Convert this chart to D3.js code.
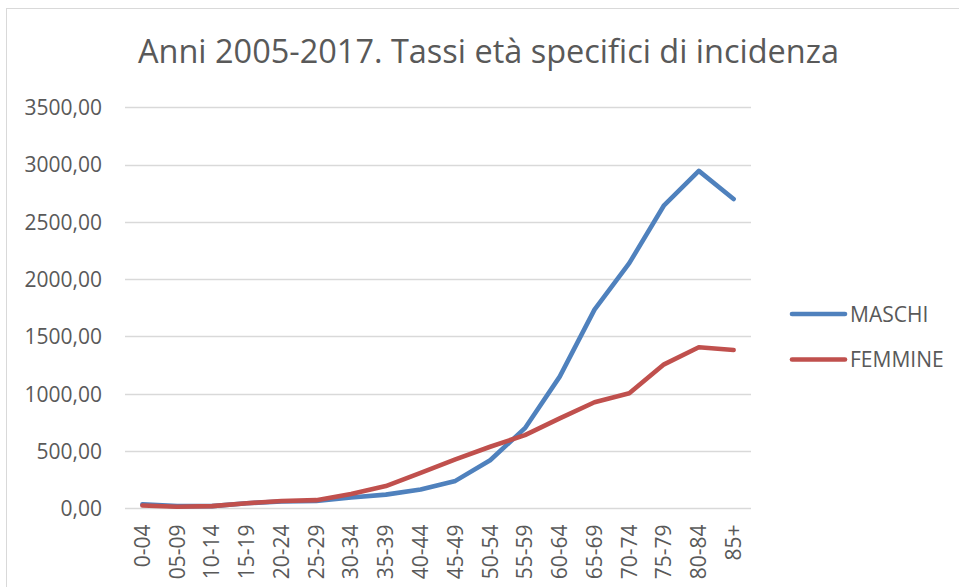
<!DOCTYPE html>
<html>
<head>
<meta charset="utf-8">
<script src="https://cdn.jsdelivr.net/npm/d3@7"></script>
<style>
  html, body { margin: 0; padding: 0; background: #fff; }
  svg { display: block; }
  text { font-family: "Open Sans", "Noto Sans", sans-serif; fill: #595959; }
</style>
</head>
<body>
<svg id="chart" width="959" height="587"></svg>
<script>
const title = "Anni 2005-2017. Tassi età specifici di incidenza";
const categories = ["0-04","05-09","10-14","15-19","20-24","25-29","30-34","35-39","40-44","45-49","50-54","55-59","60-64","65-69","70-74","75-79","80-84","85+"];
const maschi  = [35, 20, 20, 45, 60, 65, 95, 120, 165, 240, 420, 700, 1150, 1735, 2140, 2645, 2945, 2700];
const femmine = [25, 15, 20, 45, 65, 72, 125, 195, 310, 428, 538, 640, 786, 926, 1004, 1257, 1406, 1382];
const seriesNames = ["MASCHI", "FEMMINE"];
const seriesColors = ["#4f81bd", "#c0504d"];
const yTicks = [0, 500, 1000, 1500, 2000, 2500, 3000, 3500];

const svg = d3.select("#chart");
const W = 959, H = 587;
const plot = { left: 125, right: 751, top: 107.3, bottom: 508.4 };

// frame
svg.append("rect").attr("x", 6.5).attr("y", 8.5).attr("width", W + 20).attr("height", H + 20)
  .attr("fill", "#fff").attr("stroke", "#d9d9d9").attr("stroke-width", 1);

const x = d3.scaleBand().domain(categories).range([plot.left, plot.right]).padding(0);
const y = d3.scaleLinear().domain([0, 3500]).range([plot.bottom, plot.top]);
const fmt = v => d3.format(".2f")(v).replace(".", ",");

// grid
svg.append("g").selectAll("line").data(yTicks).join("line")
  .attr("x1", plot.left).attr("x2", plot.right)
  .attr("y1", d => Math.round(y(d)) + 0.5).attr("y2", d => Math.round(y(d)) + 0.5)
  .attr("stroke", "#d9d9d9").attr("stroke-width", 1.3);

// y axis labels
const yAxis = d3.axisLeft(y).tickValues(yTicks).tickFormat(fmt).tickSize(0).tickPadding(0);
const gy = svg.append("g").attr("transform", `translate(102,0)`).call(yAxis);
gy.select(".domain").remove();
gy.selectAll("text").style("font-size", "21px").attr("fill", "#595959").attr("dy", "0.35em");

// x axis labels
const xAxis = d3.axisBottom(x).tickSize(0).tickPadding(0);
const gx = svg.append("g").attr("transform", `translate(0,${plot.bottom})`).call(xAxis);
gx.select(".domain").remove();
gx.selectAll("text")
  .style("font-size", "21px").attr("fill", "#595959")
  .attr("text-anchor", "end")
  .attr("transform", "rotate(-90)")
  .attr("x", -16).attr("y", 0).attr("dy", "0.35em");
gx.selectAll(".tick").attr("transform", d => `translate(${x(d) + x.bandwidth() / 2},0)`);

// lines
const data = [maschi, femmine];
const line = d3.line().x((d, i) => x(categories[i]) + x.bandwidth() / 2).y(d => y(d));
svg.append("g").selectAll("path").data(data).join("path")
  .attr("d", line).attr("fill", "none")
  .attr("stroke", (d, i) => seriesColors[i]).attr("stroke-width", 4.6)
  .attr("stroke-linejoin", "round").attr("stroke-linecap", "round");

// legend
const legendY = d3.scaleOrdinal().domain(seriesNames).range([314, 359.5]);
const lg = svg.append("g").selectAll("g").data(seriesNames).join("g")
  .attr("transform", d => `translate(792,${legendY(d)})`);
lg.append("line").attr("x1", 0).attr("x2", 53).attr("y1", 0).attr("y2", 0)
  .attr("stroke", (d, i) => seriesColors[i]).attr("stroke-width", 4.6).attr("stroke-linecap", "round");
lg.append("text").attr("x", 58).attr("dy", "0.36em").style("font-size", "21px").text(d => d);

// title
const t = svg.append("text").attr("x", 488.5).attr("y", 63).attr("text-anchor", "middle")
  .style("font-size", "30px").text(title);
const len = t.node().getComputedTextLength();
t.style("font-size", (30 * 701 / len).toFixed(2) + "px");
</script>
</body>
</html>
